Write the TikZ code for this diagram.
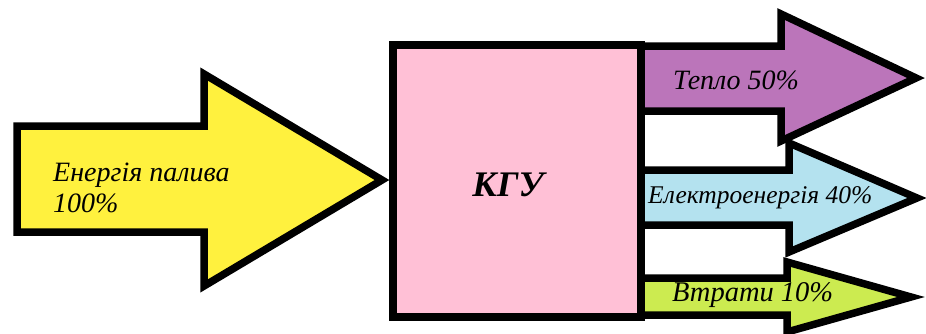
\documentclass[tikz,border=0pt]{standalone}
\usepackage{fontspec}
\setmainfont{Liberation Serif}
\definecolor{fuel}{RGB}{255,241,62}
\definecolor{kgu}{RGB}{255,192,214}
\definecolor{heat}{RGB}{187,117,186}
\definecolor{elec}{RGB}{180,226,239}
\definecolor{loss}{RGB}{204,235,80}
\begin{document}
\begin{tikzpicture}[x=1pt,y=-1pt,
  blk/.style={draw=black, line width=7.5pt, line join=miter, miter limit=20},
  lbl/.style={font=\fontsize{28}{31}\selectfont\itshape, text=black, inner sep=0pt, anchor=west, align=left}]
\useasboundingbox (0,0) rectangle (926,333);
\fill[white] (0,0) rectangle (926,333);
% fuel arrow
\draw[blk, fill=fuel] (17,126) -- (204,126) -- (204,74) -- (382,180) -- (204,286) -- (204,232) -- (17,232) -- cycle;
% output arrows
\draw[blk, fill=loss] (641,278) -- (787,278) -- (787,262) -- (911,297) -- (787,332) -- (787,315) -- (641,315) -- cycle;
\draw[blk, fill=elec] (641,170) -- (789,170) -- (789,143) -- (917,198) -- (789,252) -- (789,225) -- (641,225) -- cycle;
\draw[blk, fill=heat] (641,46) -- (781,46) -- (781,14) -- (916,78) -- (781,141) -- (781,111) -- (641,111) -- cycle;
% box
\node[blk, fill=kgu, minimum width=248pt, minimum height=272pt, inner sep=0pt] (kgu) at (517,181) {};
\node[font=\fontsize{36}{38}\selectfont\bfseries\itshape, inner sep=0pt] (kgulbl) at (508,185) {КГУ};
% labels
\node[lbl] (fuellbl) at (53,188) {Енергія палива\\100\%};
\node[lbl] (heatlbl) at (673,80) {Тепло 50\%};
\node[lbl, font=\fontsize{25.5}{28}\selectfont\itshape] (eleclbl) at (648,198) {Електроенергія 40\%};
\node[lbl, font=\fontsize{28.5}{30}\selectfont\itshape] (losslbl) at (672,295) {Втрати 10\%};
\end{tikzpicture}
\end{document}
